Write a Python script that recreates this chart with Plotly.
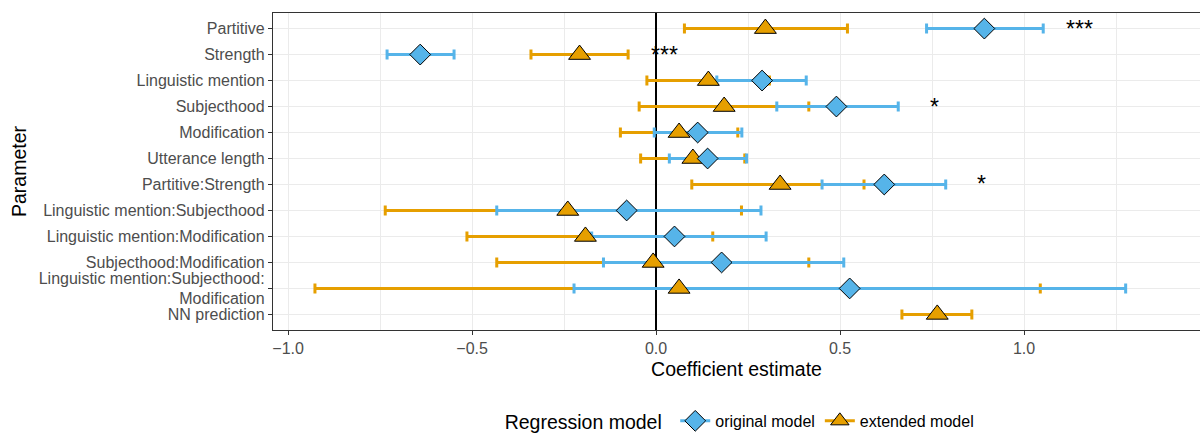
import plotly.graph_objects as go

params = [
    "Partitive", "Strength", "Linguistic mention", "Subjecthood", "Modification",
    "Utterance length", "Partitive:Strength", "Linguistic mention:Subjecthood",
    "Linguistic mention:Modification", "Subjecthood:Modification",
    "Linguistic mention:Subjecthood:<br>Modification", "NN prediction",
]

# original model (NN prediction not included)
orig_est = [0.892, -0.641, 0.288, 0.490, 0.113, 0.140, 0.620, -0.080, 0.050, 0.178, 0.526, None]
orig_lo  = [0.735, -0.731, 0.165, 0.328, -0.005, 0.036, 0.451, -0.433, -0.175, -0.143, -0.223, None]
orig_hi  = [1.052, -0.549, 0.408, 0.658, 0.233, 0.246, 0.787, 0.285, 0.299, 0.510, 1.276, None]

# extended model
ext_est = [0.297, -0.208, 0.142, 0.185, 0.0625, 0.100, 0.337, -0.240, -0.192, -0.008, 0.0625, 0.764]
ext_lo  = [0.077, -0.340, -0.025, -0.046, -0.097, -0.042, 0.097, -0.736, -0.514, -0.433, -0.927, 0.668]
ext_hi  = [0.520, -0.076, 0.308, 0.415, 0.222, 0.241, 0.565, 0.232, 0.154, 0.415, 1.044, 0.858]

# significance annotations
sig_params = ["Partitive", "Strength", "Subjecthood", "Partitive:Strength"]
sig_x = [1.151, 0.023, 0.757, 0.885]
sig_text = ["***", "***", "*", "*"]

BLUE = "#56B4E9"
ORANGE = "#E69F00"
FONT = "Liberation Sans, Arial, Helvetica, sans-serif"


def split_err(est, lo, hi):
    plus = [None if e is None else h - e for e, h in zip(est, hi)]
    minus = [None if e is None else e - l for e, l in zip(est, lo)]
    return plus, minus


o_plus, o_minus = split_err(orig_est, orig_lo, orig_hi)
e_plus, e_minus = split_err(ext_est, ext_lo, ext_hi)

fig = go.Figure()

# error bars (orange below blue)
for est, plus, minus, col in [(ext_est, e_plus, e_minus, ORANGE), (orig_est, o_plus, o_minus, BLUE)]:
    fig.add_trace(go.Scatter(
        x=est, y=params, mode="markers",
        marker=dict(size=1, opacity=0, color=col),
        error_x=dict(type="data", symmetric=False, array=plus, arrayminus=minus,
                     color=col, thickness=3, width=5),
        showlegend=False, hoverinfo="skip",
    ))

# point estimates
fig.add_trace(go.Scatter(
    x=ext_est, y=params, mode="markers",
    marker=dict(symbol="triangle-up", size=19, color=ORANGE, line=dict(color="black", width=1)),
    showlegend=False,
))
fig.add_trace(go.Scatter(
    x=orig_est, y=params, mode="markers",
    marker=dict(symbol="diamond", size=16, color=BLUE, line=dict(color="black", width=1)),
    showlegend=False,
))

# legend entries
fig.add_trace(go.Scatter(
    x=[None], y=[None], mode="lines+markers", name="original model",
    line=dict(color=BLUE, width=3),
    marker=dict(symbol="diamond", size=16, color=BLUE, line=dict(color="black", width=1)),
))
fig.add_trace(go.Scatter(
    x=[None], y=[None], mode="lines+markers", name="extended model",
    line=dict(color=ORANGE, width=3),
    marker=dict(symbol="triangle-up", size=16, color=ORANGE, line=dict(color="black", width=1)),
))

for p, x, t in zip(sig_params, sig_x, sig_text):
    fig.add_annotation(x=x, y=p, text=t, showarrow=False, xanchor="center", yanchor="middle",
                       font=dict(size=23, color="black", family=FONT), yshift=0)

grid = "#EBEBEB"
fig.update_layout(
    width=1200, height=433,
    margin=dict(l=273, r=0, t=13, b=103, autoexpand=False),
    paper_bgcolor="white", plot_bgcolor="white",
    font=dict(family=FONT),
    xaxis=dict(
        range=[-1.041, 1.478],
        automargin=False,
        tickvals=[-1.0, -0.5, 0.0, 0.5, 1.0],
        ticktext=["\u22121.0", "\u22120.5", "0.0", "0.5", "1.0"],
        tickfont=dict(size=16, color="#4D4D4D"),
        ticks="outside", ticklen=4, tickcolor="#333333", tickwidth=1,
        showgrid=True, gridcolor=grid, gridwidth=1.4,
        minor=dict(dtick=0.25, tick0=0, showgrid=True, gridcolor=grid, gridwidth=0.7, ticks=""),
        zeroline=True, zerolinecolor="black", zerolinewidth=2,
        showline=True, mirror=True, linecolor="#333333", linewidth=1.3,
        title=dict(text="Coefficient estimate", font=dict(size=19.5, color="black"), standoff=6),
    ),
    yaxis=dict(
        type="category", categoryorder="array", categoryarray=params,
        range=[len(params) - 0.4, -0.6],
        automargin=False,
        tickfont=dict(size=16, color="#4D4D4D"),
        ticks="outside", ticklen=4, tickcolor="#333333", tickwidth=1,
        showgrid=True, gridcolor=grid, gridwidth=1.4,
        zeroline=False,
        showline=True, mirror=False, linecolor="#333333", linewidth=1.3,
        title=dict(text="Parameter", font=dict(size=19.5, color="black"), standoff=6),
    ),
    legend=dict(
        orientation="h", x=0.505, xanchor="center", y=-0.29, yanchor="middle",
        title=dict(text="Regression model ", font=dict(size=19.5, color="black"), side="left"),
        font=dict(size=16, color="black"),
        itemwidth=30, tracegroupgap=0,
    ),
)

fig.write_html("out.html", config={"displayModeBar": False},
               post_script="document.body.style.margin='0';")
